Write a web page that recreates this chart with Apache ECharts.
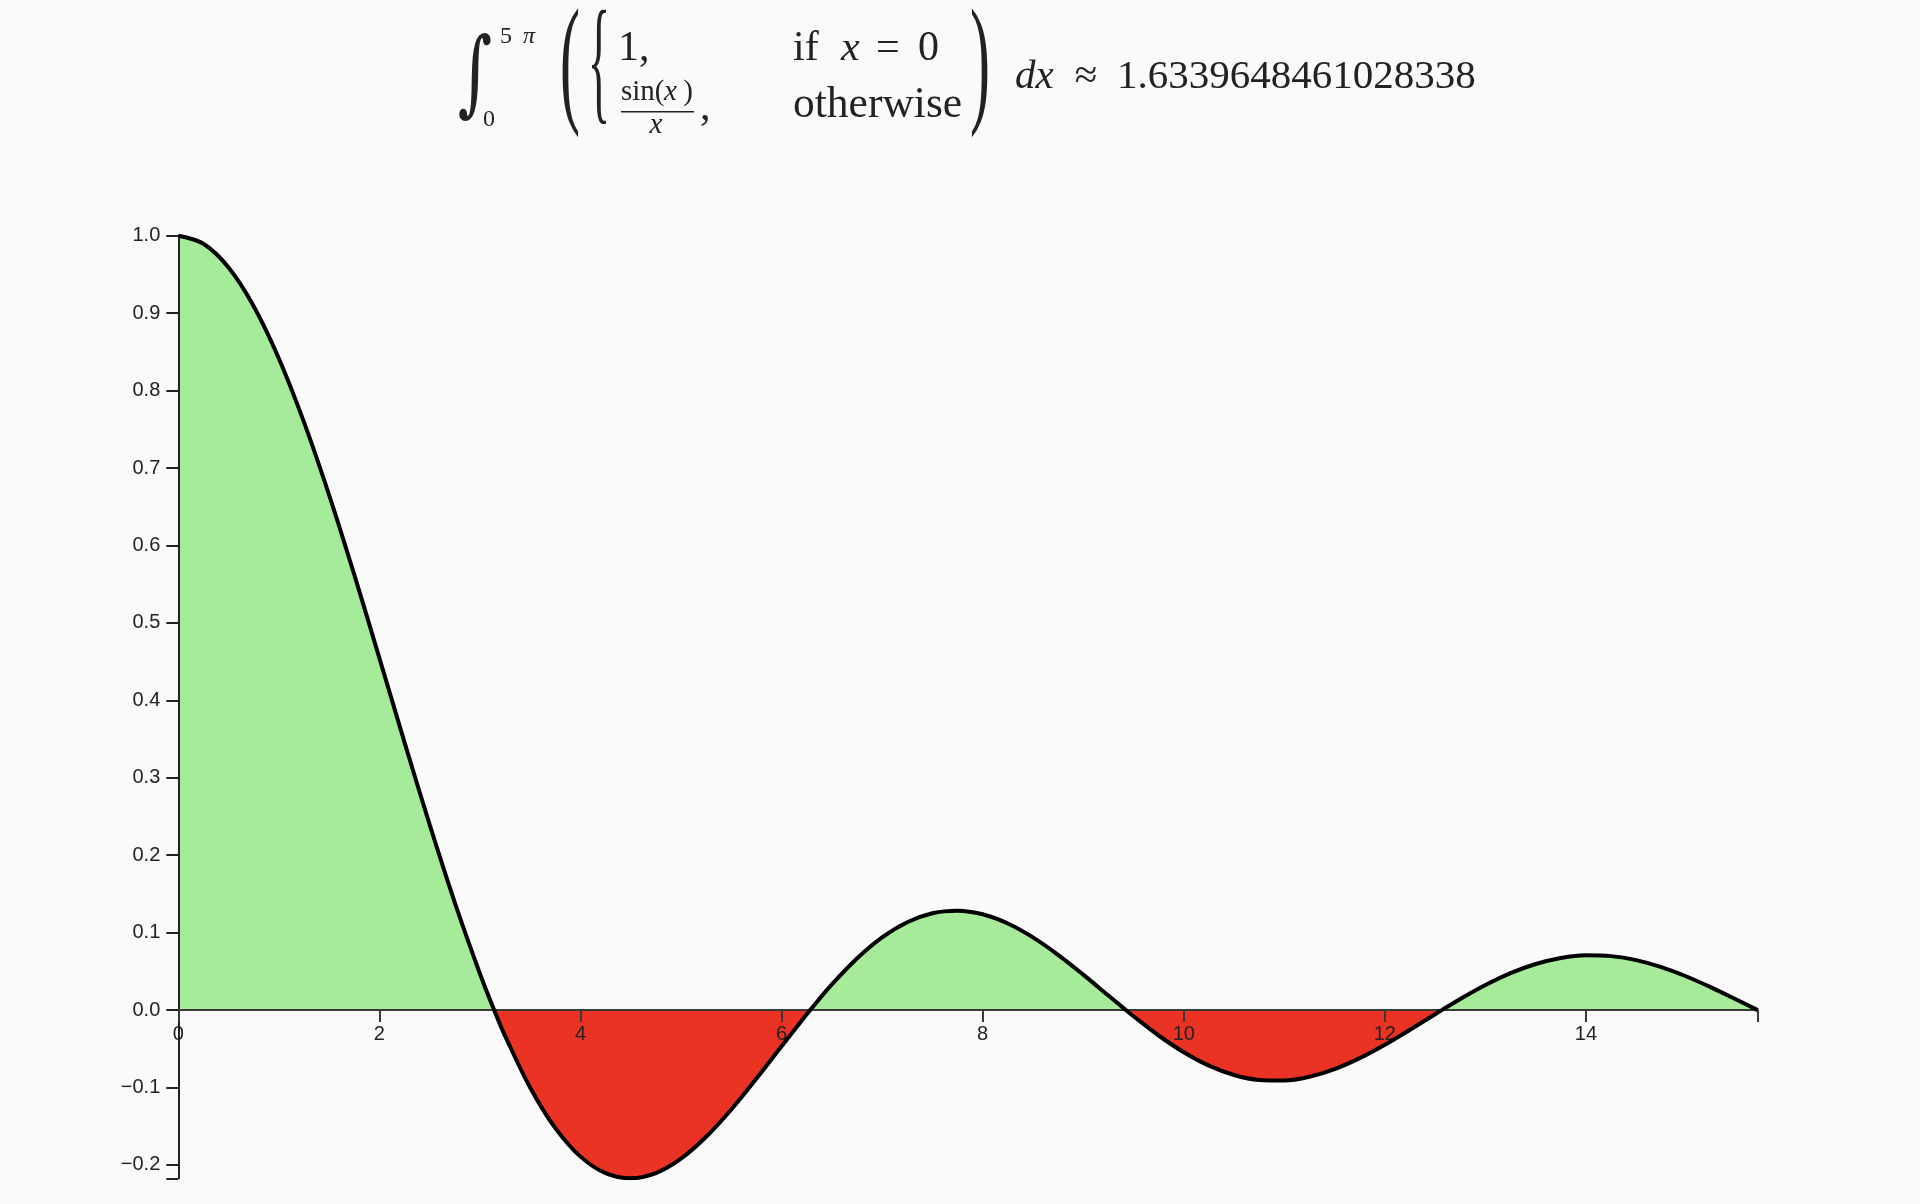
<!DOCTYPE html>
<html><head><meta charset="utf-8">
<style>html,body{margin:0;padding:0;background:#fafafa}#chart{width:1920px;height:1204px}</style>
<script src="https://cdn.jsdelivr.net/npm/echarts@6/dist/echarts.min.js"></script>
</head><body><div id="chart"></div>
<script>
const X_VALUES = [0,0.25,0.5,0.75,1,1.25,1.5,1.75,2,2.25,2.5,2.75,3,3.1416,
  3.25,3.5,3.75,4,4.25,4.5,4.75,5,5.25,5.5,5.75,6,6.25,6.2832,
  6.5,6.75,7,7.25,7.5,7.75,8,8.25,8.5,8.75,9,9.25,9.4248,
  9.5,9.75,10,10.25,10.5,10.75,11,11.25,11.5,11.75,12,12.25,12.5,12.5664,
  12.75,13,13.25,13.5,13.75,14,14.25,14.5,14.75,15,15.25,15.5,15.708];
const Y_VALUES = [1,0.9896,0.9589,0.9089,0.8415,0.7592,0.6650,0.5623,0.4546,0.3458,0.2394,0.1388,0.0470,0,
  -0.0333,-0.1002,-0.1524,-0.1892,-0.2106,-0.2172,-0.2104,-0.1918,-0.1636,-0.1283,-0.0884,-0.0466,-0.0053,0,
  0.0331,0.0667,0.0939,0.1135,0.1251,0.1283,0.1237,0.1118,0.0939,0.0714,0.0458,0.0188,0,
  -0.0079,-0.0328,-0.0544,-0.0717,-0.0838,-0.0902,-0.0909,-0.0860,-0.0761,-0.0620,-0.0447,-0.0254,-0.0053,0,
  0.0143,0.0323,0.0477,0.0595,0.0674,0.0708,0.0697,0.0645,0.0555,0.0434,0.0290,0.0133,0];
const X_MIN = 0, X_MAX = 15.708;
const Y_MIN = -0.2172, Y_MAX = 1.0;
const X_TICKS = [0,2,4,6,8,10,12,14];
const Y_TICKS = [-0.2,-0.1,0,0.1,0.2,0.3,0.4,0.5,0.6,0.7,0.8,0.9,1.0];
const RESULT_TEXT = '1.6339648461028338';

const GREEN = '#a6eb99', RED = '#ea3324', INK = '#222';
const SERIF = "'Liberation Serif', 'DejaVu Serif', serif";
const W = 1920, H = 1204;
const SMOOTH = 0.33;

const data = X_VALUES.map((x, i) => [x, Y_VALUES[i]]);

// math title pieces
function T(text, x, baseline, size, o) {
  o = o || {};
  const align = o.align || 'left';
  return {
    type: 'text', x: x, y: baseline - 0.3375 * size * (o.scaleY || 1),
    scaleX: o.scaleX || 1, scaleY: o.scaleY || 1,
    z: 10,
    style: {
      text: text, x: 0, y: 0,
      font: (o.italic ? 'italic ' : '') + size + 'px ' + SERIF,
      fill: INK, align: align, verticalAlign: 'middle'
    }
  };
}
function D(text, cx, cy, size, sx, sy, fam) {
  return {
    type: 'text', x: cx, y: cy, scaleX: sx, scaleY: sy, z: 10,
    style: { text: text, x: 0, y: 0, font: size + 'px ' + (fam || SERIF), fill: INK,
      align: 'center', verticalAlign: 'middle' }
  };
}
const titleGraphics = [
  D('∫', 475, 80, 66, 1.0, 1.42, "'DejaVu Serif', serif"),
  T('5', 500, 45, 24),
  T('π', 523, 45, 24, {italic: true}),
  T('0', 483, 128, 24),
  D('(', 570, 70, 60, 1.0, 2.35),
  D('{', 599, 70, 52, 0.9, 2.65),
  T('1,', 618, 63, 42),
  T('if', 793, 63, 42),
  T('x', 841, 63, 42, {italic: true}),
  T('=', 876, 63, 42),
  T('0', 918, 63, 42),
  T('sin(', 621, 102, 29),
  T('x', 664, 102, 29, {italic: true}),
  T(')', 693, 102, 29, {align: 'right'}),
  {type: 'rect', z: 10, shape: {x: 621, y: 111, width: 73, height: 1.6}, style: {fill: INK}},
  T('x', 656, 135, 29, {italic: true, align: 'center'}),
  T(',', 700, 122, 42),
  T('otherwise', 793, 120, 43.5),
  D(')', 980, 70, 60, 1.0, 2.35),
  T('dx', 1015, 91, 41, {italic: true}),
  T('≈', 1086, 91, 41, {align: 'center'}),
  T(RESULT_TEXT, 1117, 91, 41)
];

const axisFont = { fontFamily: "'Liberation Sans', Arial, sans-serif", fontSize: 20, color: INK };
const GRID = { left: 178.3, right: 162.3, top: 235.7, bottom: 25.7 };

const chart = echarts.init(document.getElementById('chart'), null, {renderer: 'canvas', width: W, height: H});
chart.setOption({
  backgroundColor: '#fafafa',
  animation: false,
  grid: [ Object.assign({ outerBoundsMode: 'none' }, GRID) ],
  xAxis: [{ type: 'value', min: X_MIN, max: X_MAX, show: false }],
  yAxis: [{
    type: 'value', min: Y_MIN, max: Y_MAX, z: 2,
    splitLine: {show: false},
    axisLine: { show: true, onZero: false, lineStyle: { color: INK, width: 2 } },
    axisTick: { show: true, length: 12, lineStyle: { color: INK, width: 2 },
      customValues: Y_TICKS.concat([Y_MIN]) },
    axisLabel: Object.assign({ margin: 18, customValues: Y_TICKS,
      formatter: v => v.toFixed(1).replace('-', '\u2212') }, axisFont)
  }],
  visualMap: {
    type: 'piecewise', show: false, dimension: 1, seriesIndex: 0,
    pieces: [ { gt: 0, lte: 2, color: GREEN }, { gt: -2, lte: 0, color: RED } ]
  },
  series: [
    { type: 'line', data: data, smooth: SMOOTH, showSymbol: false, z: 1, silent: true,
      lineStyle: { width: 0, opacity: 0 }, areaStyle: { opacity: 1, origin: 0 } },
    { type: 'line', data: data, smooth: SMOOTH, showSymbol: false, z: 3, silent: true,
      lineStyle: { color: '#000', width: 4 }, itemStyle: {color: '#000'} }
  ],
  graphic: titleGraphics
});

// x axis drawn along y = 0: a second grid whose bottom edge sits on the zero line
const zeroY = chart.convertToPixel({gridIndex: 0}, [0, 0])[1];
chart.setOption({
  grid: [ {}, { left: GRID.left, right: GRID.right, top: GRID.top, bottom: H - zeroY, outerBoundsMode: 'none' } ],
  xAxis: [ {}, {
    type: 'value', gridIndex: 1, min: X_MIN, max: X_MAX, position: 'bottom', z: 2,
    splitLine: {show: false},
    axisLine: { show: true, onZero: false, lineStyle: { color: '#3a3a3a', width: 2 } },
    axisTick: { show: true, length: 12, lineStyle: { color: '#3a3a3a', width: 2 },
      customValues: X_TICKS.concat([X_MAX]) },
    axisLabel: Object.assign({ margin: 14, customValues: X_TICKS,
      formatter: v => String(v) }, axisFont)
  }],
  yAxis: [ {}, { type: 'value', gridIndex: 1, show: false, splitLine: {show: false} } ]
});
</script></body></html>
